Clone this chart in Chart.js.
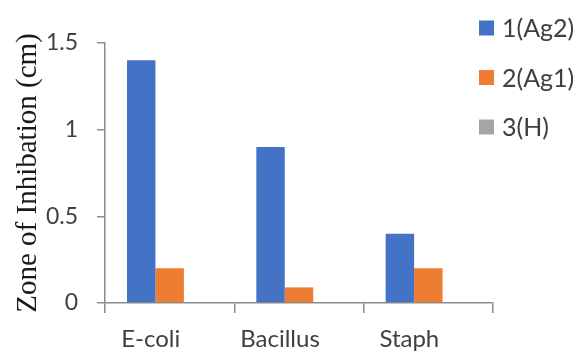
<!DOCTYPE html>
<html>
<head>
<meta charset="utf-8">
<script src="https://cdn.jsdelivr.net/npm/chart.js@4"></script>
<style>
    html, body { margin: 0; padding: 0; background: #fff; }
    #zone-chart { display: block; }
</style>
</head>
<body>
<canvas id="zone-chart" width="578" height="352"></canvas>
<script>
// 균주별 억제대 크기 (cm)
const bacteria = ['E-coli', 'Bacillus', 'Staph'];
const seriesNames = ['1(Ag2)', '2(Ag1)', '3(H)'];
const ag2Values = [1.4, 0.9, 0.4];
const ag1Values = [0.2, 0.09, 0.2];
const hValues = [0, 0, 0];
const yTicks = [0, 0.5, 1, 1.5];

const colors = ['#4472C4', '#ED7D31', '#A5A5A5'];
const axisColor = '#8c8c8c';

// 범례는 오른쪽 위에 세로로 직접 그림
const sideLegend = {
    id: 'sideLegend',
    afterDraw(chart) {
        const ctx = chart.ctx;
        ctx.save();
        ctx.font = '25px Lato';
        ctx.textBaseline = 'middle';
        chart.data.datasets.forEach((ds, i) => {
            const y = 28 + i * 49.5;
            ctx.fillStyle = ds.backgroundColor;
            ctx.fillRect(479, y - 7.5, 15, 15);
            ctx.fillStyle = '#404040';
            ctx.fillText(ds.label, 502, y + 1);
        });
        ctx.restore();
    }
};

const ctx = document.getElementById('zone-chart').getContext('2d');
new Chart(ctx, {
    type: 'bar',
    data: {
        labels: bacteria,
        datasets: [
            { label: seriesNames[0], data: ag2Values, backgroundColor: colors[0] },
            { label: seriesNames[1], data: ag1Values, backgroundColor: colors[1] },
            { label: seriesNames[2], data: hValues, backgroundColor: colors[2] }
        ]
    },
    options: {
        responsive: false,
        animation: false,
        devicePixelRatio: 1,
        categoryPercentage: 0.66,
        barPercentage: 1,
        layout: {
            padding: { top: 43, right: 85, left: 0, bottom: 0 }
        },
        plugins: {
            legend: { display: false },
            tooltip: { enabled: false }
        },
        scales: {
            x: {
                afterFit: (scale) => { scale.height = 49; },
                border: { color: axisColor, width: 1.5 },
                grid: {
                    offset: true,
                    drawOnChartArea: false,
                    tickLength: 10,
                    color: axisColor,
                    lineWidth: 1.5
                },
                ticks: {
                    labelOffset: -19,
                    padding: 12,
                    color: '#404040',
                    font: { family: 'Lato', size: 24 }
                }
            },
            y: {
                min: yTicks[0],
                max: yTicks[yTicks.length - 1],
                afterFit: (scale) => { scale.width = 105; },
                afterBuildTicks: (scale) => {
                    scale.ticks = yTicks.map(v => ({ value: v }));
                },
                border: { color: axisColor, width: 1.5 },
                grid: {
                    drawOnChartArea: false,
                    tickLength: 8,
                    color: axisColor,
                    lineWidth: 1.5
                },
                ticks: {
                    padding: 19,
                    color: '#404040',
                    font: { family: 'Lato', size: 23 },
                    callback: (value) => String(value)
                },
                title: {
                    display: true,
                    text: 'Zone of Inhibation (cm)',
                    color: '#1a1a1a',
                    padding: { top: 11, bottom: 0 },
                    font: { family: 'Liberation Serif', size: 29 }
                }
            }
        }
    },
    plugins: [sideLegend]
});
</script>
</body>
</html>
